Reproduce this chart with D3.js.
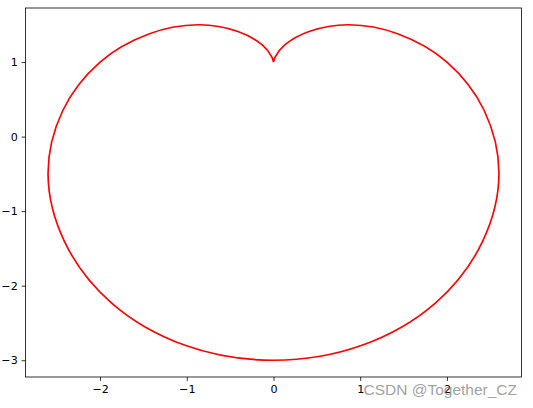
<!DOCTYPE html>
<html>
<head>
<meta charset="utf-8">
<script src="https://cdn.jsdelivr.net/npm/d3@7"></script>
<style>
  body { margin: 0; background: #fff; }
  svg text { font-family: "DejaVu Sans", sans-serif; }
</style>
</head>
<body>
<div id="viz"></div>
<script>
// points, starting and ending at the cusp (0, 1)
const xs = [0, -0.02, -0.13, -0.41, -0.87, -1.43, -2.0, -2.43, -2.6, -2.41, -1.87, -1.02, 0,
            1.02, 1.87, 2.41, 2.6, 2.43, 2.0, 1.43, 0.87, 0.41, 0.13, 0.02, 0];
const ys = [1, 1.07, 1.23, 1.41, 1.5, 1.38, 1.0, 0.35, -0.5, -1.41, -2.23, -2.8, -3.0,
            -2.8, -2.23, -1.41, -0.5, 0.35, 1.0, 1.38, 1.5, 1.41, 1.23, 1.07, 1];
const xTicks = [-2, -1, 0, 1, 2];
const yTicks = [-3, -2, -1, 0, 1];

const W = 533, H = 408;
const margin = {top: 8, right: 11.5, bottom: 31, left: 25.5},
    width = W - margin.left - margin.right,
    height = H - margin.top - margin.bottom;

const svg = d3.select("#viz")
    .append("svg")
        .attr("width", W)
        .attr("height", H);

const g = svg.append("g")
    .attr("transform", `translate(${margin.left},${margin.top})`);

// matplotlib style 5% autoscale margin
function padded(arr) {
    const [lo, hi] = d3.extent(arr);
    const m = (hi - lo) * 0.05;
    return [lo - m, hi + m];
}

const x = d3.scaleLinear().domain(padded(xs)).range([0, width]);
const y = d3.scaleLinear().domain(padded(ys)).range([height, 0]);

const fmt = d => String(d).replace("-", "\u2212");

const xAxis = g.append("g")
    .attr("transform", `translate(0,${height})`)
    .call(d3.axisBottom(x).tickValues(xTicks).tickFormat(fmt).tickSizeOuter(0).tickSize(3.9).tickPadding(3.9));
const yAxis = g.append("g")
    .call(d3.axisLeft(y).tickValues(yTicks).tickFormat(fmt).tickSizeOuter(0).tickSize(3.9).tickPadding(3.9));

[xAxis, yAxis].forEach(a => {
    a.select(".domain").remove();
    a.selectAll("line").attr("stroke", "#000").attr("stroke-width", 0.8);
    a.selectAll("text").attr("fill", "#000").style("font-size", "11.1px");
});

// curve
const pts = xs.map((d, i) => [d, ys[i]]);
const line = d3.line()
    .x(d => x(d[0]))
    .y(d => y(d[1]))
    .curve(d3.curveCatmullRom.alpha(0.5));

g.append("path")
    .datum(pts)
    .attr("fill", "none")
    .attr("stroke", "red")
    .attr("stroke-width", 1.67)
    .attr("d", line);

// frame
g.append("rect")
    .attr("width", width)
    .attr("height", height)
    .attr("fill", "none")
    .attr("stroke", "#000")
    .attr("stroke-width", 0.8);

// watermark
svg.append("text")
    .attr("x", 517)
    .attr("y", 395)
    .attr("text-anchor", "end")
    .attr("fill", "#888")
    .attr("fill-opacity", 0.8)
    .style("font-family", "'Liberation Sans', Arial, sans-serif")
    .style("font-size", "15.5px")
    .text("CSDN @Together_CZ");
</script>
</body>
</html>
